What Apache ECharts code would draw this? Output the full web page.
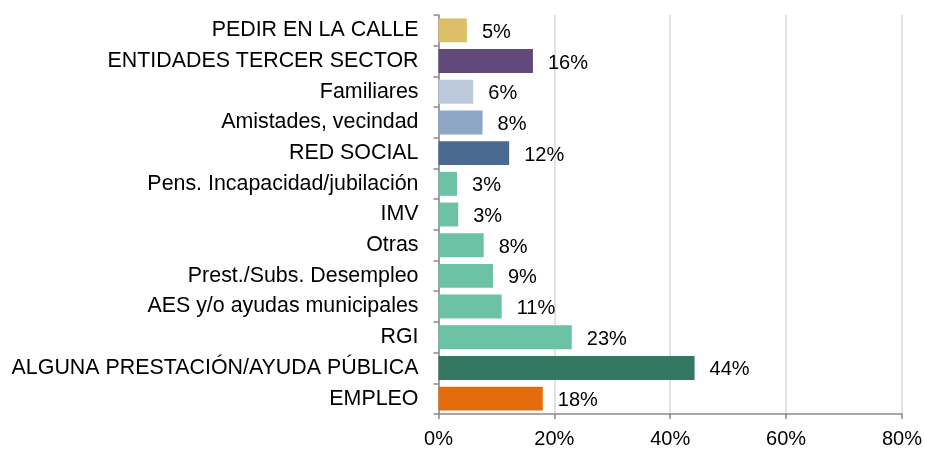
<!DOCTYPE html>
<html>
<head>
<meta charset="utf-8">
<script src="https://cdn.jsdelivr.net/npm/echarts@6/dist/echarts.min.js"></script>
<style>
  html, body { margin:0; padding:0; background:#fff; }
  #chart { width:925px; height:449px; }
</style>
</head>
<body>
<div id="chart"></div>
<script>
// ====== 数据 ======
const categories = [
  'PEDIR EN LA CALLE',
  'ENTIDADES TERCER SECTOR',
  'Familiares',
  'Amistades, vecindad',
  'RED SOCIAL',
  'Pens. Incapacidad/jubilación',
  'IMV',
  'Otras',
  'Prest./Subs. Desempleo',
  'AES y/o ayudas municipales',
  'RGI',
  'ALGUNA PRESTACIÓN/AYUDA PÚBLICA',
  'EMPLEO'
];
const values = [4.9, 16.3, 6.0, 7.6, 12.2, 3.2, 3.4, 7.8, 9.4, 10.9, 23.0, 44.2, 18.0];
const barColors = [
  '#dcc069', '#614a7a', '#bccadc', '#8ca6c4', '#4a6b8f',
  '#6dc2a5', '#6dc2a5', '#6dc2a5', '#6dc2a5', '#6dc2a5', '#6dc2a5',
  '#347860', '#e46c0b'
];
const xTicks = [0, 20, 40, 60, 80];

const FONT = 'Liberation Sans, Arial, sans-serif';
const chart = echarts.init(document.getElementById('chart'));
chart.setOption({
  backgroundColor:'#fff',
  animation:false,
  grid:{ left:438.5, right:21.5, top:15, bottom:32, containLabel:false },
  xAxis:{
    type:'value',
    min:xTicks[0], max:xTicks[xTicks.length-1], interval:20,
    axisLine:{ show:true, lineStyle:{ color:'#898989', width:1.5 } },
    axisTick:{ show:true, length:5, lineStyle:{ color:'#898989', width:1.5 } },
    splitLine:{ show:true, lineStyle:{ color:'#d9d9d9', width:1.5 } },
    axisLabel:{ formatter:'{value}%', color:'#000', fontSize:20, fontFamily:FONT, margin:15 }
  },
  yAxis:{
    type:'category',
    inverse:true,
    data:categories,
    axisLine:{ show:true, lineStyle:{ color:'#898989', width:1.5 } },
    axisTick:{ show:true, length:5, lineStyle:{ color:'#898989', width:1.5 } },
    axisLabel:{ color:'#000', fontSize:21.4, fontFamily:FONT, margin:20 }
  },
  series:[{
    type:'bar',
    data:values.map((v,i)=>({ value:v, itemStyle:{ color:barColors[i] } })),
    barCategoryGap:'22%',
    label:{
      show:true, position:'right', distance:15,
      color:'#000', fontSize:20, fontFamily:FONT,
      offset:[0, 2],
      formatter:p=>Math.round(p.value)+'%'
    }
  }]
});
</script>
</body>
</html>
